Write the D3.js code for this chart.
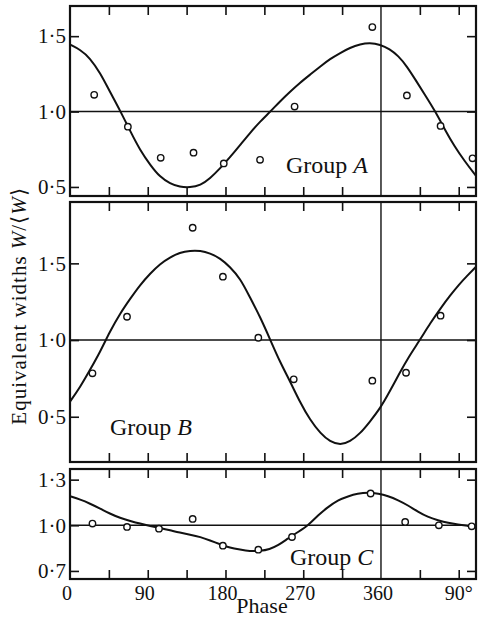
<!DOCTYPE html>
<html>
<head>
<meta charset="utf-8">
<script src="https://cdnjs.cloudflare.com/ajax/libs/d3/7.8.5/d3.min.js"></script>
</head>
<body style="margin:0">
<svg id="chart" width="478" height="626"></svg>
<script>
//Observed points (phase in degrees, W/<W>)
var phaseA = [28, 67, 105, 143, 178, 220, 260, 350, 390, 429, 466];
var valueA = [1.111, 0.90, 0.693, 0.727, 0.656, 0.68, 1.033, 1.56, 1.107, 0.905, 0.69];
var phaseB = [26, 66, 142, 177, 218, 259, 350, 389, 429];
var valueB = [0.783, 1.152, 1.732, 1.413, 1.015, 0.744, 0.735, 0.787, 1.159];
var phaseC = [26, 66, 103, 142, 177, 218, 257, 348, 388, 427, 465];
var valueC = [1.011, 0.989, 0.978, 1.042, 0.866, 0.84, 0.923, 1.209, 1.022, 1.0, 0.993];

//Fitted curves
var curvePhaseA = [0, 12, 23, 35, 46, 58, 70, 81, 93, 104, 116, 127, 139, 151, 162, 174, 185, 197, 208, 220, 232, 243, 255, 266, 278, 290, 301, 313, 324, 336, 347, 359, 370, 380, 390, 400, 411, 423, 434, 445, 457, 470];
var curveValueA = [1.444, 1.41, 1.356, 1.256, 1.133, 1.007, 0.867, 0.745, 0.645, 0.567, 0.522, 0.50, 0.496, 0.511, 0.556, 0.625, 0.695, 0.778, 0.856, 0.933, 1.0, 1.067, 1.133, 1.19, 1.245, 1.30, 1.349, 1.389, 1.423, 1.447, 1.456, 1.445, 1.415, 1.37, 1.30, 1.21, 1.11, 1.0, 0.88, 0.77, 0.67, 0.573];
var curvePhaseB = [0, 12, 23, 35, 46, 58, 70, 81, 93, 104, 116, 127, 139, 151, 162, 174, 185, 197, 208, 220, 232, 243, 255, 266, 278, 290, 301, 313, 324, 336, 347, 359, 370, 381, 392, 405, 417, 430, 440, 450, 460, 470];
var curveValueB = [0.598, 0.695, 0.804, 0.924, 1.054, 1.174, 1.272, 1.359, 1.435, 1.496, 1.54, 1.57, 1.583, 1.583, 1.566, 1.533, 1.478, 1.402, 1.282, 1.152, 1.0, 0.858, 0.728, 0.598, 0.478, 0.391, 0.337, 0.315, 0.337, 0.391, 0.467, 0.554, 0.663, 0.78, 0.89, 1.0, 1.11, 1.215, 1.29, 1.36, 1.42, 1.478];
var curvePhaseC = [0, 12, 23, 35, 46, 58, 70, 81, 93, 104, 116, 127, 139, 151, 162, 174, 185, 197, 208, 220, 231, 241, 252, 264, 276, 287, 299, 310, 322, 333, 345, 357, 368, 380, 391, 403, 414, 426, 438, 449, 461, 470];
var curveValueC = [1.191, 1.169, 1.143, 1.11, 1.077, 1.048, 1.028, 1.011, 0.995, 0.982, 0.967, 0.952, 0.939, 0.923, 0.901, 0.875, 0.853, 0.84, 0.829, 0.831, 0.842, 0.868, 0.912, 0.956, 1.0, 1.066, 1.121, 1.165, 1.191, 1.209, 1.216, 1.209, 1.193, 1.165, 1.132, 1.088, 1.055, 1.033, 1.015, 1.005, 0.995, 0.992];

//Axis ticks and labels
var xTickValues = [45, 90, 135, 180, 225, 270, 315, 405, 450];
var xLabelValues = [0, 90, 180, 270, 360, 450];
var xLabels = ["0", "90", "180", "270", "360", "90°"];
var yTicksAB = [0.5, 1.0, 1.5];
var yLabelsAB = ["0·5", "1·0", "1·5"];
var yTicksC = [0.7, 1.0, 1.3];
var yLabelsC = ["0·7", "1·0", "1·3"];

var fontName = "'Liberation Serif'";
var ink = "#111";

var svg = d3.select("#chart");

//Shared phase scale
var xScale = d3.scaleLinear().domain([0, 470]).range([70, 476]);

//Panel definitions
var panels = [
  { top: 6, bottom: 196, domain: [0.44, 1.70], ticks: yTicksAB, labels: yLabelsAB,
    px: phaseA, py: valueA, cx: curvePhaseA, cy: curveValueA, name: "A", tx: 286, ty: 173 },
  { top: 202, bottom: 462, domain: [0.205, 1.90], ticks: yTicksAB, labels: yLabelsAB,
    px: phaseB, py: valueB, cx: curvePhaseB, cy: curveValueB, name: "B", tx: 110, ty: 435 },
  { top: 469, bottom: 579, domain: [0.647, 1.37], ticks: yTicksC, labels: yLabelsC,
    px: phaseC, py: valueC, cx: curvePhaseC, cy: curveValueC, name: "C", tx: 290, ty: 565 }
];

panels.forEach(function(p) {
  var yScale = d3.scaleLinear().domain(p.domain).range([p.bottom, p.top]);
  var g = svg.append("g");

  //reference lines at 1.0 and phase 360
  g.append("line")
    .attr("x1", xScale(0)).attr("x2", xScale(470))
    .attr("y1", yScale(1.0)).attr("y2", yScale(1.0))
    .attr("stroke", ink).attr("stroke-width", 1.4);
  g.append("line")
    .attr("x1", xScale(360)).attr("x2", xScale(360))
    .attr("y1", p.top).attr("y2", p.bottom)
    .attr("stroke", ink).attr("stroke-width", 1.4);

  //inward ticks on all four sides
  var topAxis = d3.axisTop(xScale).tickValues(xTickValues).tickSize(-9).tickFormat("");
  g.append("g").attr("transform", `translate(0, ${p.top})`).call(topAxis);
  var bottomAxis = d3.axisBottom(xScale).tickValues(xTickValues).tickSize(-9).tickFormat("");
  g.append("g").attr("transform", `translate(0, ${p.bottom})`).call(bottomAxis);

  var leftAxis = d3.axisLeft(yScale).tickValues(p.ticks).tickSize(-9).tickPadding(4)
    .tickFormat(function(d, j) { return p.labels[j]; });
  g.append("g").attr("class", "yleft").attr("transform", `translate(${xScale(0)}, 0)`).call(leftAxis);
  var rightAxis = d3.axisRight(yScale).tickValues(p.ticks).tickSize(-9).tickFormat("");
  g.append("g").attr("transform", `translate(${xScale(470)}, 0)`).call(rightAxis);

  g.selectAll(".domain").remove();
  g.selectAll(".tick line").attr("stroke", ink).attr("stroke-width", 1.6);
  g.selectAll(".yleft text")
    .style("font-family", fontName)
    .style("font-size", "21px")
    .attr("fill", ink);

  //fitted curve
  var line = d3.line()
    .x(function(d, j) { return xScale(p.cx[j]); })
    .y(function(d) { return yScale(d); })
    .curve(d3.curveBasis);
  g.append("path")
    .datum(p.cy)
    .attr("d", line)
    .attr("fill", "none")
    .attr("stroke", ink)
    .attr("stroke-width", 2);

  //observed points
  g.selectAll("circle")
    .data(p.py)
    .enter()
    .append("circle")
    .attr("cx", function(d, j) { return xScale(p.px[j]); })
    .attr("cy", function(d) { return yScale(d); })
    .attr("r", 3.2)
    .attr("fill", "#fff")
    .attr("stroke", ink)
    .attr("stroke-width", 1.4);

  //group label
  var label = g.append("text")
    .attr("x", p.tx).attr("y", p.ty)
    .attr("fill", ink)
    .style("font-family", fontName)
    .style("font-size", "24px");
  label.append("tspan").text("Group ");
  label.append("tspan").style("font-style", "italic").text(p.name);

  //frame
  g.append("rect")
    .attr("x", xScale(0)).attr("y", p.top)
    .attr("width", xScale(470) - xScale(0))
    .attr("height", p.bottom - p.top)
    .attr("fill", "none")
    .attr("stroke", ink)
    .attr("stroke-width", 2.2);
});

//Phase labels under the bottom panel
svg.append("g")
  .selectAll("text")
  .data(xLabelValues)
  .enter()
  .append("text")
  .attr("x", function(d) { return xScale(d) - 3; })
  .attr("y", 600)
  .attr("text-anchor", function(d, i) { return i === xLabels.length - 1 ? "start" : "middle"; })
  .attr("dx", function(d, i) { return i === xLabels.length - 1 ? -11 : 0; })
  .attr("fill", ink)
  .style("font-family", fontName)
  .style("font-size", "20px")
  .text(function(d, i) { return xLabels[i]; });

svg.append("text")
  .attr("x", 262).attr("y", 613)
  .attr("text-anchor", "middle")
  .attr("fill", ink)
  .style("font-family", fontName)
  .style("font-size", "22px")
  .text("Phase");

//Y axis title
var yTitle = svg.append("text")
  .attr("transform", "translate(26, 306) rotate(-90)")
  .attr("text-anchor", "middle")
  .attr("fill", ink)
  .style("font-family", fontName)
  .style("font-size", "21px")
  .style("letter-spacing", "1px");
yTitle.append("tspan").text("Equivalent widths ");
yTitle.append("tspan").style("font-style", "italic").text("W");
yTitle.append("tspan").text("/⟨");
yTitle.append("tspan").style("font-style", "italic").text("W");
yTitle.append("tspan").text("⟩");
</script>
</body>
</html>
